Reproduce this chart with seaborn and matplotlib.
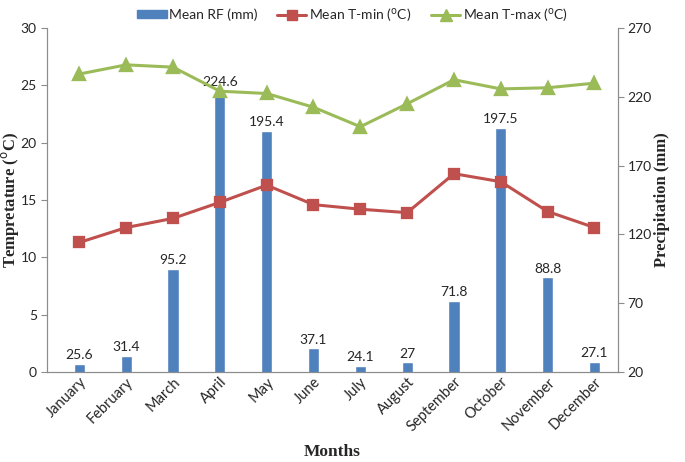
import numpy as np
import matplotlib
matplotlib.use("Agg")
import matplotlib.pyplot as plt
import seaborn as sns
from matplotlib.lines import Line2D
from matplotlib.patches import Patch

# data
months = ['January', 'February', 'March', 'April', 'May', 'June', 'July',
          'August', 'September', 'October', 'November', 'December']
rain = [25.6, 31.4, 95.2, 224.6, 195.4, 37.1, 24.1, 27, 71.8, 197.5, 88.8, 27.1]
tmin = [11.3, 12.6, 13.4, 14.8, 16.3, 14.6, 14.2, 13.9, 17.3, 16.6, 14.0, 12.6]
tmax = [26.0, 26.8, 26.6, 24.5, 24.3, 23.1, 21.4, 23.4, 25.5, 24.7, 24.8, 25.2]

blue = '#4F81BD'
red = '#C0504D'
green = '#9BBB59'
grey = '#8C8C8C'

sns.set_style('white')
plt.rcParams['font.family'] = ['Lato', 'DejaVu Sans']

fig = plt.figure(figsize=(6.85, 4.62), dpi=100)
ax = fig.add_axes([0.068, 0.195, 0.834, 0.744])
ax2 = ax.twinx()

# bars on the precipitation axis (clipped at the 20 mm floor)
sns.barplot(x=months, y=rain, ax=ax2, color=blue, saturation=1, width=0.24)
ax2.set_ylim(20, 270)
ax2.set_yticks(np.arange(20, 271, 50))
ax2.bar_label(ax2.containers[0], fmt='%g', fontsize=10, padding=2)

# temperature lines on top
sns.pointplot(x=months, y=tmin, ax=ax, color=red, marker='s', markersize=7,
              linewidth=2.2)
sns.pointplot(x=months, y=tmax, ax=ax, color=green, marker='^', markersize=8,
              linewidth=2.2)
ax.set_ylim(0, 30)
ax.set_yticks(np.arange(0, 31, 5))
ax.set_xlim(-0.7, 11.5)
ax.set_zorder(ax2.get_zorder() + 1)
ax.patch.set_visible(False)

for a in (ax, ax2):
    for s in a.spines.values():
        s.set_color(grey)
    a.spines['top'].set_visible(False)
    a.tick_params(axis='y', direction='out', length=4, color=grey,
                  labelsize=10, pad=3)
ax.tick_params(axis='x', length=0, labelsize=10.5, pad=2)
plt.setp(ax.get_xticklabels(), rotation=45, ha='right', rotation_mode='anchor')
ax2.tick_params(axis='x', length=0)

serif = ['Liberation Serif', 'DejaVu Serif']
deg = r'($^{\mathrm{o}}$C)'
ax.set_ylabel('Tempretature ' + deg, family=serif, fontweight='bold', fontsize=12)
ax.yaxis.set_label_coords(-0.045, 0.5)
ax2.set_ylabel('Precipitation (mm)', family=serif, fontweight='bold', fontsize=12)
ax2.yaxis.set_label_coords(1.063, 0.5)
ax.set_xlabel('Months', family=serif, fontweight='bold', fontsize=12.5)
ax.xaxis.set_label_coords(0.5, -0.21)

handles = [Patch(color=blue),
           Line2D([], [], color=red, marker='s', lw=2.2, ms=7),
           Line2D([], [], color=green, marker='^', lw=2.2, ms=8)]
labels = ['Mean RF (mm)', 'Mean T-min ' + deg, 'Mean T-max ' + deg]
fig.legend(handles, labels, loc='upper center', bbox_to_anchor=(0.515, 1.015),
           ncol=3, frameon=False, fontsize=10, handlelength=2.1,
           handleheight=0.5, columnspacing=1.4, handletextpad=0.2)

fig.savefig('out.png', dpi=100)
